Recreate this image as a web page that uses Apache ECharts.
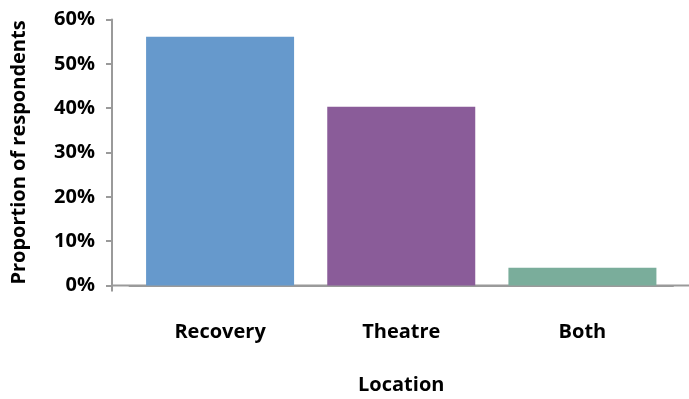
<!DOCTYPE html>
<html><head><meta charset="utf-8">
<script src="https://cdn.jsdelivr.net/npm/echarts@6/dist/echarts.min.js"></script>
<style>html,body{margin:0;padding:0;background:#fff;overflow:hidden}#c{width:689px;height:399px}</style>
</head><body><div id="c"></div>
<script>
const categories = ['Recovery', 'Theatre', 'Both'];
const values = [56.1, 40.3, 4.0];
const barColors = ['#6699cc', '#8a5c99', '#7aad9b'];
const yTicks = [0, 10, 20, 30, 40, 50, 60];

const FONT = 'Open Sans';
const axisGray = '#9a9a9a';
const chart = echarts.init(document.getElementById('c'), null, {renderer: 'canvas'});
chart.setOption({
  animation: false,
  grid: {left: 129.5, right: 16, top: 19.5, bottom: 113.5, containLabel: false, outerBoundsMode: 'none'},
  xAxis: {
    type: 'category', data: categories,
    name: 'Location', nameLocation: 'middle', nameGap: 90,
    nameTextStyle: {fontFamily: FONT, fontSize: 20, fontWeight: 700, color: '#000'},
    axisLine: {lineStyle: {color: axisGray, width: 2}},
    axisTick: {alignWithLabel: true, length: 6, lineStyle: {color: axisGray, width: 2}},
    axisLabel: {fontFamily: FONT, fontSize: 20, fontWeight: 700, color: '#000', margin: 37}
  },
  yAxis: {
    type: 'value', min: 0, max: 60, interval: 10, offset: 17.5,
    name: 'Proportion of respondents', nameLocation: 'middle', nameGap: 83,
    nameTextStyle: {fontFamily: FONT, fontSize: 20, fontWeight: 700, color: '#000'},
    axisLine: {show: true, lineStyle: {color: axisGray, width: 2}},
    axisTick: {show: true, length: 6, lineStyle: {color: axisGray, width: 2}},
    splitLine: {show: false},
    axisLabel: {fontFamily: FONT, fontSize: 20, fontWeight: 700, color: '#000', margin: 17,
      formatter: v => yTicks.includes(v) ? v + '%' : ''}
  },
  series: [{
    type: 'bar', barWidth: 148,
    data: values.map((v, i) => ({value: v, itemStyle: {color: barColors[i]}}))
  }]
});
// extend the x axis line back to the y axis and out to the right edge, as in the original
const zeroY = chart.convertToPixel({yAxisIndex: 0}, 0);
const c0 = chart.convertToPixel({xAxisIndex: 0}, categories[0]);
const c1 = chart.convertToPixel({xAxisIndex: 0}, categories[1]);
const yAxisX = c0 - (c1 - c0) / 2 - 17.5;
chart.setOption({
  graphic: [
    {type: 'line', shape: {x1: yAxisX, y1: zeroY, x2: chart.getWidth(), y2: zeroY},
      style: {stroke: axisGray, lineWidth: 2}, z: 0},
    {type: 'line', shape: {x1: yAxisX, y1: zeroY, x2: yAxisX, y2: zeroY + 6},
      style: {stroke: axisGray, lineWidth: 2}, z: 0}
  ]
});
</script></body></html>
